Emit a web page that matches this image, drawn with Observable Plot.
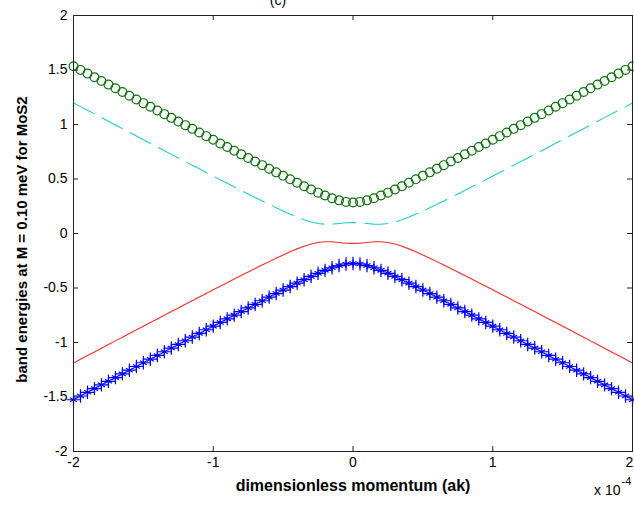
<!DOCTYPE html>
<html>
<head>
<meta charset="utf-8">
<script src="https://cdn.jsdelivr.net/npm/d3@7"></script>
<script src="https://cdn.jsdelivr.net/npm/@observablehq/plot@0.6"></script>
<style>
  html, body { margin: 0; padding: 0; background: white; }
</style>
</head>
<body>
<div id="chart"></div>
<script>
// dimensionless momentum (units of 1e-4)
const momentum = [-2,-1.95,-1.9,-1.85,-1.8,-1.75,-1.7,-1.65,-1.6,-1.55,-1.5,-1.45,-1.4,-1.35,-1.3,-1.25,-1.2,-1.15,-1.1,-1.05,-1,-0.95,-0.9,-0.85,-0.8,-0.75,-0.7,-0.65,-0.6,-0.55,-0.5,-0.45,-0.4,-0.35,-0.3,-0.25,-0.2,-0.15,-0.1,-0.05,0,0.05,0.1,0.15,0.2,0.25,0.3,0.35,0.4,0.45,0.5,0.55,0.6,0.65,0.7,0.75,0.8,0.85,0.9,0.95,1,1.05,1.1,1.15,1.2,1.25,1.3,1.35,1.4,1.45,1.5,1.55,1.6,1.65,1.7,1.75,1.8,1.85,1.9,1.95,2];

// upper outer band (green circles)
const bandGreen = [1.535,1.501,1.467,1.433,1.399,1.366,1.332,1.298,1.264,1.230,1.196,1.163,1.129,1.095,1.061,1.028,0.994,0.960,0.927,0.893,0.860,0.826,0.793,0.759,0.726,0.693,0.660,0.627,0.594,0.561,0.529,0.497,0.465,0.434,0.404,0.375,0.348,0.324,0.304,0.290,0.285,0.290,0.304,0.324,0.348,0.375,0.404,0.434,0.465,0.497,0.529,0.561,0.594,0.627,0.660,0.693,0.726,0.759,0.793,0.826,0.860,0.893,0.927,0.960,0.994,1.028,1.061,1.095,1.129,1.163,1.196,1.230,1.264,1.298,1.332,1.366,1.399,1.433,1.467,1.501,1.535];

// upper inner band (cyan dashed)
const bandCyan = [1.198,1.164,1.130,1.097,1.063,1.029,0.995,0.962,0.928,0.894,0.861,0.827,0.794,0.760,0.726,0.693,0.660,0.626,0.593,0.560,0.527,0.493,0.461,0.428,0.395,0.363,0.331,0.299,0.268,0.237,0.207,0.178,0.151,0.127,0.106,0.092,0.085,0.086,0.092,0.099,0.101,0.099,0.092,0.086,0.085,0.092,0.106,0.127,0.151,0.178,0.207,0.237,0.268,0.299,0.331,0.363,0.395,0.428,0.461,0.493,0.527,0.560,0.593,0.626,0.660,0.693,0.726,0.760,0.794,0.827,0.861,0.894,0.928,0.962,0.995,1.029,1.063,1.097,1.130,1.164,1.198];

// lower inner band (red solid)
const bandRed = [-1.188,-1.154,-1.120,-1.087,-1.053,-1.019,-0.985,-0.952,-0.918,-0.884,-0.851,-0.817,-0.784,-0.750,-0.716,-0.683,-0.650,-0.616,-0.583,-0.550,-0.517,-0.483,-0.451,-0.418,-0.385,-0.353,-0.321,-0.289,-0.258,-0.227,-0.197,-0.168,-0.141,-0.117,-0.096,-0.082,-0.075,-0.076,-0.082,-0.089,-0.091,-0.089,-0.082,-0.076,-0.075,-0.082,-0.096,-0.117,-0.141,-0.168,-0.197,-0.227,-0.258,-0.289,-0.321,-0.353,-0.385,-0.418,-0.451,-0.483,-0.517,-0.550,-0.583,-0.616,-0.650,-0.683,-0.716,-0.750,-0.784,-0.817,-0.851,-0.884,-0.918,-0.952,-0.985,-1.019,-1.053,-1.087,-1.120,-1.154,-1.188];

// lower outer band (blue stars)
const bandBlue = [-1.525,-1.491,-1.457,-1.423,-1.389,-1.356,-1.322,-1.288,-1.254,-1.220,-1.186,-1.153,-1.119,-1.085,-1.051,-1.018,-0.984,-0.950,-0.917,-0.883,-0.850,-0.816,-0.783,-0.749,-0.716,-0.683,-0.650,-0.617,-0.584,-0.551,-0.519,-0.487,-0.455,-0.424,-0.394,-0.365,-0.338,-0.314,-0.294,-0.280,-0.275,-0.280,-0.294,-0.314,-0.338,-0.365,-0.394,-0.424,-0.455,-0.487,-0.519,-0.551,-0.584,-0.617,-0.650,-0.683,-0.716,-0.749,-0.783,-0.816,-0.850,-0.883,-0.917,-0.950,-0.984,-1.018,-1.051,-1.085,-1.119,-1.153,-1.186,-1.220,-1.254,-1.288,-1.322,-1.356,-1.389,-1.423,-1.457,-1.491,-1.525];

const xTicks = [-2, -1, 0, 1, 2];
const xTicksInner = [-2, -1, 0, 1];
const xTickLast = [2];
const yTicks = [-2, -1.5, -1, -0.5, 0, 0.5, 1, 1.5, 2];
const xLabel = "dimensionless momentum (ak)";
const yLabel = "band energies at M = 0.10 meV for MoS2";
const titleText = "(c)";

const rows = momentum.map((m, i) => ({m, g: bandGreen[i], c: bandCyan[i], r: bandRed[i], b: bandBlue[i]}));

const FONT = "'Liberation Sans', Arial, Helvetica, sans-serif";
const frameH = 506 - 15 - 55;
const frameW = 634 - 73 - 2;

const chart = Plot.plot({
  width: 634,
  height: 506,
  marginLeft: 73,
  marginRight: 2,
  marginTop: 15,
  marginBottom: 55,
  style: {fontFamily: FONT, fontSize: "14px", color: "black", background: "white"},
  x: {domain: [-2, 2], label: null},
  y: {domain: [-2, 2], label: null},
  marks: [
    Plot.axisX(xTicksInner, {tickSize: 0, tickPadding: 6, tickFormat: d => String(d), fontSize: 14}),
    Plot.axisX(xTickLast, {tickSize: 0, tickPadding: 6, tickFormat: d => String(d), fontSize: 14, dx: -3}),
    Plot.axisY(yTicks, {tickSize: 0, tickPadding: 6, tickFormat: d => String(d), fontSize: 14}),
    Plot.tickX(xTicks, {x: d => d, insetTop: frameH - 5, stroke: "#222"}),
    Plot.tickX(xTicks, {x: d => d, insetBottom: frameH - 5, stroke: "#222"}),
    Plot.tickY(yTicks, {y: d => d, insetRight: frameW - 5, stroke: "#222"}),
    Plot.tickY(yTicks, {y: d => d, insetLeft: frameW - 5, stroke: "#222"}),
    Plot.line(rows, {x: "m", y: "c", stroke: "#22cccc", strokeWidth: 1.1, strokeDasharray: "23,9"}),
    Plot.line(rows, {x: "m", y: "r", stroke: "#ff2a2a", strokeWidth: 1.1}),
    Plot.dot(rows, {x: "m", y: "g", r: 4.4, stroke: "#0b6e0b", strokeWidth: 1.2, fill: "none"}),
    Plot.dot(rows, {x: "m", y: "b", symbol: "asterisk", r: 3.8, stroke: "#0000ff", strokeWidth: 1.2}),
    Plot.dot(rows, {x: "m", y: "b", symbol: "plus", r: 4.4, stroke: "#0000ff", strokeWidth: 1.2}),
    Plot.frame({stroke: "#222"}),
    Plot.text([xLabel], {frameAnchor: "bottom", dy: 39, fontWeight: "bold", fontSize: 16, fill: "black"}),
    Plot.text([yLabel], {frameAnchor: "left", textAnchor: "middle", rotate: -90, dx: -51, dy: 6, fontWeight: "bold", fontSize: 15, fill: "black"}),
    Plot.text(["x 10"], {frameAnchor: "bottom-right", textAnchor: "end", dx: -12, dy: 43, fontSize: 14, fill: "black"}),
    Plot.text(["-4"], {frameAnchor: "bottom-right", textAnchor: "start", dx: -11, dy: 33, fontSize: 11, fill: "black"}),
    Plot.text([titleText], {frameAnchor: "top", dx: -75, dy: -20, fontSize: 14, fill: "black"})
  ]
});
document.getElementById("chart").appendChild(chart);
</script>
</body>
</html>
